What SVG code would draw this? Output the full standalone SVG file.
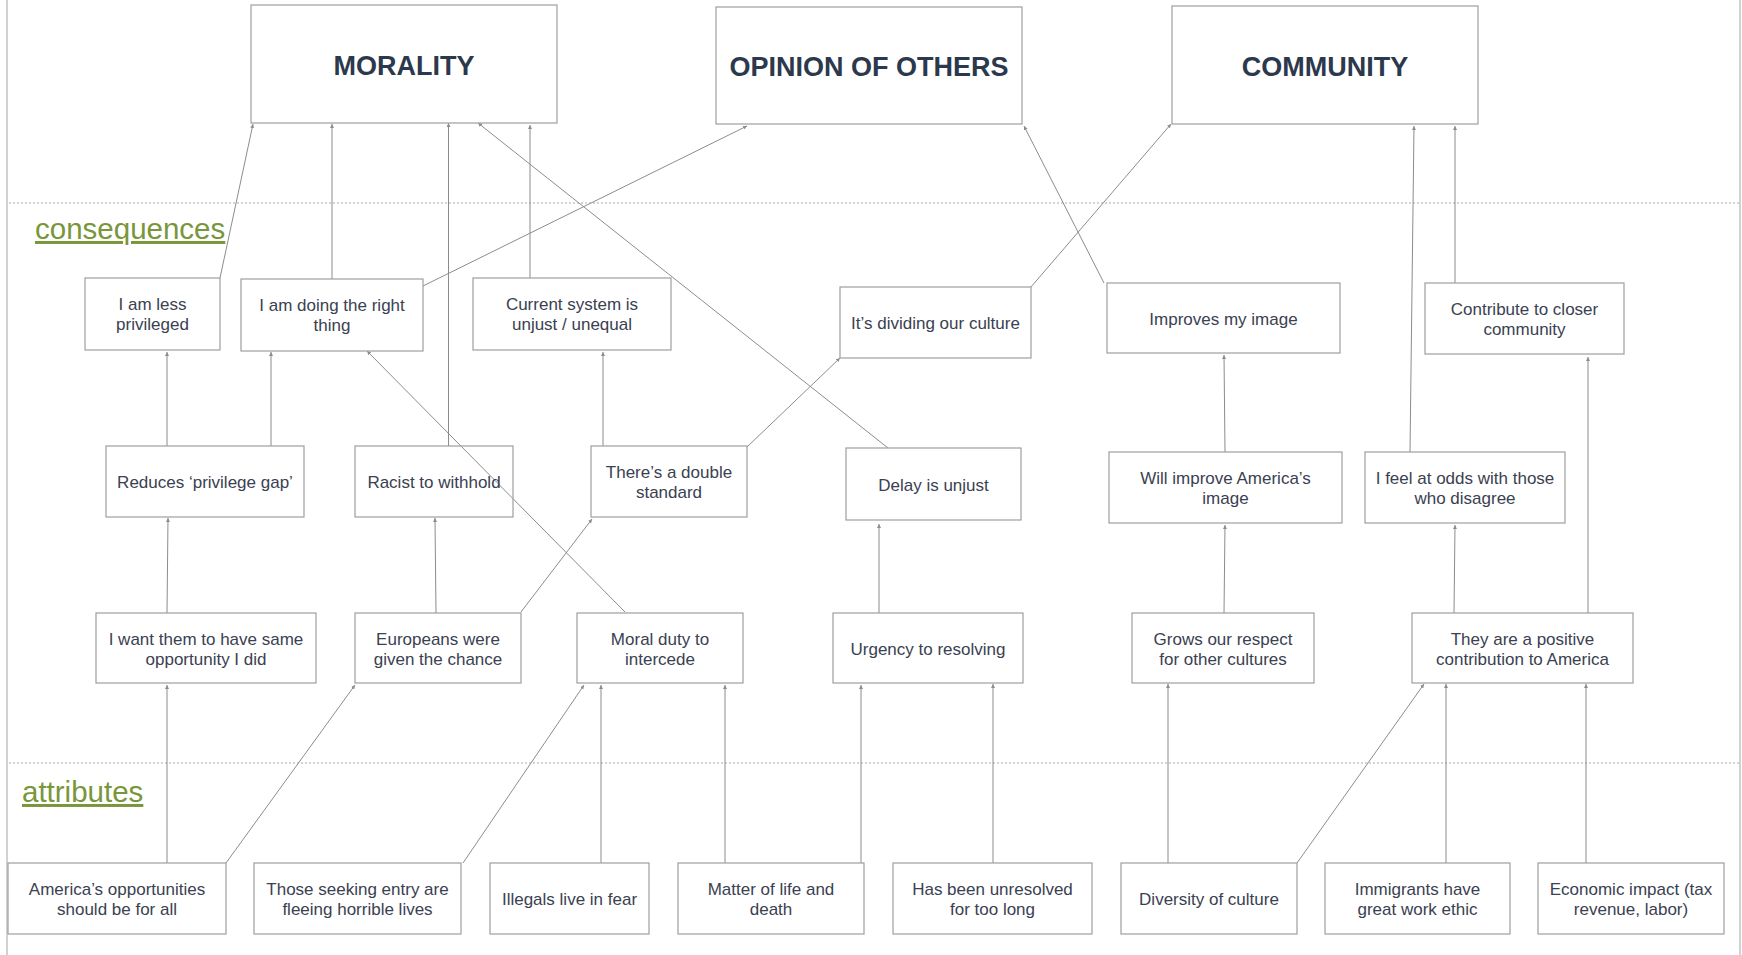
<svg xmlns="http://www.w3.org/2000/svg" width="1742" height="955" viewBox="0 0 1742 955">
<defs>
<style>
.box{fill:none;stroke:#9e9e9e;stroke-width:1.2}
.t{font-family:"Liberation Sans",Arial,sans-serif;font-size:17px;fill:#3a4151;text-anchor:middle}
.h{font-family:"Liberation Sans",Arial,sans-serif;font-size:27px;font-weight:bold;fill:#2c394d;text-anchor:middle}
.lbl{font-family:"Liberation Sans",Arial,sans-serif;font-size:29.5px;fill:#78963a;text-decoration:underline}
.c line{stroke:#8c8c8c;stroke-width:1;marker-end:url(#ah)}
.dot{stroke:#d4d4d4;stroke-width:2;stroke-dasharray:2 2}
</style>
<marker id="ah" viewBox="0 0 6 6" refX="6" refY="3" markerWidth="4" markerHeight="4" orient="auto" markerUnits="userSpaceOnUse">
<path d="M0,0 L6,3 L0,6 z" fill="#8c8c8c"/>
</marker>
</defs>
<rect x="0" y="0" width="1742" height="955" fill="#ffffff"/>
<line x1="7" y1="0" x2="7" y2="955" stroke="#d2d2d2" stroke-width="2"/>
<line x1="1740" y1="0" x2="1740" y2="955" stroke="#d2d2d2" stroke-width="2"/>
<line class="dot" x1="9" y1="203" x2="1739" y2="203"/>
<line class="dot" x1="9" y1="763" x2="1739" y2="763"/>
<text class="lbl" x="35" y="239">consequences</text>
<text class="lbl" x="22" y="802">attributes</text>

<g id="connectors" class="c">
<line x1="220" y1="278" x2="253" y2="124"/>
<line x1="332" y1="279" x2="332" y2="124"/>
<line x1="448.5" y1="446" x2="448.5" y2="123"/>
<line x1="888" y1="448" x2="478" y2="123"/>
<line x1="530" y1="278" x2="530" y2="125"/>
<line x1="423" y1="286" x2="747" y2="126"/>
<line x1="1104" y1="283" x2="1024" y2="126"/>
<line x1="1031" y1="287" x2="1171" y2="124"/>
<line x1="1410" y1="452" x2="1414" y2="126"/>
<line x1="1455" y1="283" x2="1455" y2="126"/>
<line x1="167" y1="446" x2="167" y2="352"/>
<line x1="271" y1="446" x2="271" y2="352"/>
<line x1="603" y1="446" x2="603" y2="352"/>
<line x1="747" y1="447" x2="840" y2="358"/>
<line x1="1225" y1="452" x2="1224" y2="355"/>
<line x1="167" y1="613" x2="168" y2="518"/>
<line x1="436" y1="613" x2="435" y2="518"/>
<line x1="521" y1="612" x2="592" y2="519"/>
<line x1="625" y1="612" x2="367" y2="351"/>
<line x1="879" y1="613" x2="879" y2="524"/>
<line x1="1224" y1="613" x2="1225" y2="525"/>
<line x1="1454" y1="613" x2="1455" y2="525"/>
<line x1="1588" y1="613" x2="1588" y2="357"/>
<line x1="167" y1="863" x2="167" y2="685"/>
<line x1="226" y1="863" x2="355" y2="685"/>
<line x1="463" y1="863" x2="584" y2="685"/>
<line x1="601" y1="863" x2="601" y2="685"/>
<line x1="725" y1="863" x2="725" y2="685"/>
<line x1="861" y1="863" x2="861" y2="685"/>
<line x1="993" y1="863" x2="993" y2="684"/>
<line x1="1168" y1="863" x2="1168" y2="684"/>
<line x1="1297" y1="863" x2="1424" y2="684"/>
<line x1="1446" y1="863" x2="1446" y2="684"/>
<line x1="1586" y1="863" x2="1586" y2="684"/>
</g>

<g id="morality"><rect class="box" x="251" y="5" width="306" height="118"/><text class="h" x="404" y="75">MORALITY</text></g>
<g id="opinion"><rect class="box" x="716" y="7" width="306" height="117"/><text class="h" x="869" y="76">OPINION OF OTHERS</text></g>
<g id="community"><rect class="box" x="1172" y="6" width="306" height="118"/><text class="h" x="1325" y="76">COMMUNITY</text></g>

<g id="less-privileged"><rect class="box" x="85" y="278" width="135" height="72"/><text class="t" x="152.5" y="310">I am less</text><text class="t" x="152.5" y="330">privileged</text></g>
<g id="right-thing"><rect class="box" x="241" y="279" width="182" height="72"/><text class="t" x="332" y="311">I am doing the right</text><text class="t" x="332" y="331">thing</text></g>
<g id="current-system"><rect class="box" x="473" y="278" width="198" height="72"/><text class="t" x="572" y="310">Current system is</text><text class="t" x="572" y="330">unjust / unequal</text></g>
<g id="dividing"><rect class="box" x="840" y="287" width="191" height="71"/><text class="t" x="935.5" y="329">It’s dividing our culture</text></g>
<g id="improves-image"><rect class="box" x="1107" y="283" width="233" height="70"/><text class="t" x="1223.5" y="324.5">Improves my image</text></g>
<g id="closer-community"><rect class="box" x="1425" y="283" width="199" height="71"/><text class="t" x="1524.5" y="314.5">Contribute to closer</text><text class="t" x="1524.5" y="334.5">community</text></g>

<g id="privilege-gap"><rect class="box" x="106" y="446" width="198" height="71"/><text class="t" x="205" y="488">Reduces ‘privilege gap’</text></g>
<g id="racist"><rect class="box" x="355" y="446" width="158" height="71"/><text class="t" x="434" y="488">Racist to withhold</text></g>
<g id="double-standard"><rect class="box" x="591" y="446" width="156" height="71"/><text class="t" x="669" y="477.5">There’s a double</text><text class="t" x="669" y="497.5">standard</text></g>
<g id="delay-unjust"><rect class="box" x="846" y="448" width="175" height="72"/><text class="t" x="933.5" y="490.5">Delay is unjust</text></g>
<g id="america-image"><rect class="box" x="1109" y="452" width="233" height="71"/><text class="t" x="1225.5" y="483.5">Will improve America’s</text><text class="t" x="1225.5" y="503.5">image</text></g>
<g id="at-odds"><rect class="box" x="1365" y="452" width="200" height="71"/><text class="t" x="1465" y="483.5">I feel at odds with those</text><text class="t" x="1465" y="503.5">who disagree</text></g>

<g id="same-opportunity"><rect class="box" x="96" y="613" width="220" height="70"/><text class="t" x="206" y="644.5">I want them to have same</text><text class="t" x="206" y="664.5">opportunity I did</text></g>
<g id="europeans"><rect class="box" x="355" y="613" width="166" height="70"/><text class="t" x="438" y="644.5">Europeans were</text><text class="t" x="438" y="664.5">given the chance</text></g>
<g id="moral-duty"><rect class="box" x="577" y="613" width="166" height="70"/><text class="t" x="660" y="644.5">Moral duty to</text><text class="t" x="660" y="664.5">intercede</text></g>
<g id="urgency"><rect class="box" x="833" y="613" width="190" height="70"/><text class="t" x="928" y="654.5">Urgency to resolving</text></g>
<g id="respect-cultures"><rect class="box" x="1132" y="613" width="182" height="70"/><text class="t" x="1223" y="644.5">Grows our respect</text><text class="t" x="1223" y="664.5">for other cultures</text></g>
<g id="positive-contribution"><rect class="box" x="1412" y="613" width="221" height="70"/><text class="t" x="1522.5" y="644.5">They are a positive</text><text class="t" x="1522.5" y="664.5">contribution to America</text></g>

<g id="opportunities-for-all"><rect class="box" x="8" y="863" width="218" height="71"/><text class="t" x="117" y="894.5">America’s opportunities</text><text class="t" x="117" y="914.5">should be for all</text></g>
<g id="fleeing"><rect class="box" x="254" y="863" width="207" height="71"/><text class="t" x="357.5" y="894.5">Those seeking entry are</text><text class="t" x="357.5" y="914.5">fleeing horrible lives</text></g>
<g id="illegals-fear"><rect class="box" x="490" y="863" width="159" height="71"/><text class="t" x="569.5" y="904.5">Illegals live in fear</text></g>
<g id="life-death"><rect class="box" x="678" y="863" width="186" height="71"/><text class="t" x="771" y="894.5">Matter of life and</text><text class="t" x="771" y="914.5">death</text></g>
<g id="unresolved"><rect class="box" x="893" y="863" width="199" height="71"/><text class="t" x="992.5" y="894.5">Has been unresolved</text><text class="t" x="992.5" y="914.5">for too long</text></g>
<g id="diversity"><rect class="box" x="1121" y="863" width="176" height="71"/><text class="t" x="1209" y="904.5">Diversity of culture</text></g>
<g id="work-ethic"><rect class="box" x="1325" y="863" width="185" height="71"/><text class="t" x="1417.5" y="894.5">Immigrants have</text><text class="t" x="1417.5" y="914.5">great work ethic</text></g>
<g id="economic"><rect class="box" x="1538" y="863" width="186" height="71"/><text class="t" x="1631" y="894.5">Economic impact (tax</text><text class="t" x="1631" y="914.5">revenue, labor)</text></g>
</svg>
